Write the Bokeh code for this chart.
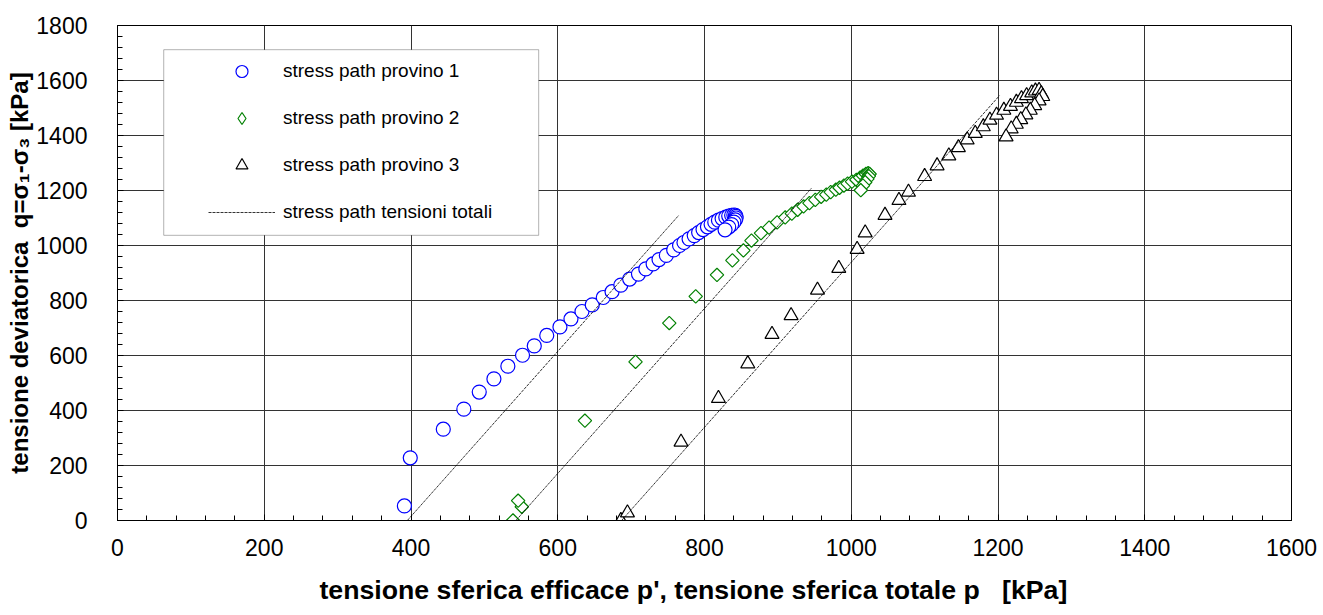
from bokeh.plotting import figure
from bokeh.models import Range1d, SingleIntervalTicker, Legend, LegendItem, BoxAnnotation
from bokeh.embed import file_html
from bokeh.resources import INLINE

# Effective stress paths (p', q) in kPa for the three specimens
p_eff_1 = [391, 399, 444, 472, 493, 513, 532, 552, 568, 585, 603, 618, 633, 647, 662, 674,
           686, 698, 710, 720, 730, 738, 748, 758, 766, 772, 779, 786, 792, 798, 804, 809,
           814, 819, 824, 829, 833, 837, 840, 842, 843, 843, 842, 840, 837, 833, 828]
q_1 = [53, 228, 332, 405, 467, 515, 561, 601, 635, 673, 704, 733, 760, 784, 811, 832,
       856, 878, 896, 915, 933, 949, 964, 984, 1000, 1011, 1024, 1036, 1047, 1058, 1068, 1077,
       1085, 1092, 1098, 1103, 1107, 1110, 1111, 1110, 1106, 1100, 1093, 1085, 1076, 1067, 1057]

p_eff_2 = [539, 551, 546, 637, 706, 752, 788, 817, 838, 853, 864, 877, 888, 899, 910, 919,
           927, 935, 943, 951, 959, 966, 972, 979, 984, 990, 995, 1001, 1007, 1012, 1016, 1020,
           1023, 1025, 1024, 1022, 1019, 1016, 1013]
q_2 = [0, 50, 72, 363, 577, 718, 815, 893, 946, 982, 1018, 1045, 1065, 1084, 1102, 1116,
       1130, 1142, 1154, 1166, 1177, 1185, 1194, 1203, 1210, 1218, 1225, 1232, 1239, 1247, 1254, 1260,
       1263, 1260, 1252, 1242, 1230, 1218, 1201]

p_eff_3 = [686, 695, 768, 819, 859, 892, 918, 954, 983, 1008, 1019, 1046, 1065, 1078, 1100, 1117,
           1133, 1146, 1158, 1169, 1180, 1189, 1198, 1208, 1217, 1225, 1232, 1239, 1246, 1251, 1256,
           1259, 1261, 1256, 1250, 1244, 1238, 1231, 1225, 1218, 1211]
q_3 = [0, 28, 285, 444, 570, 677, 745, 838, 917, 986, 1046, 1110, 1164, 1194, 1251, 1290,
       1326, 1356, 1384, 1408, 1432, 1456, 1474, 1492, 1506, 1521, 1534, 1545, 1555, 1562, 1564,
       1552, 1542, 1526, 1509, 1492, 1475, 1458, 1441, 1424, 1395]

# Total stress paths: start and end points of each specimen
total_p = [[395, 765], [543, 946], [687, 1202]]
total_q = [[0, 1110], [0, 1209], [0, 1545]]

labels = ["stress path provino 1", "stress path provino 2",
          "stress path provino 3", "stress path tensioni totali"]

FONT = "Liberation Sans"

p = figure(width=1323, height=615, output_backend="svg", toolbar_location=None,
           x_range=Range1d(0, 1600), y_range=Range1d(0, 1800),
           min_border_left=117, min_border_right=32, min_border_top=25, min_border_bottom=95,
           background_fill_color="white", border_fill_color="white")

p.outline_line_color = "black"
p.outline_line_width = 1

p.xaxis.ticker = SingleIntervalTicker(interval=200, num_minor_ticks=5)
p.yaxis.ticker = SingleIntervalTicker(interval=200, num_minor_ticks=5)

for ax in (p.xaxis, p.yaxis):
    ax.axis_line_color = "black"
    ax.major_tick_in = 6
    ax.major_tick_out = 0
    ax.minor_tick_in = 5
    ax.minor_tick_out = 0
    ax.major_tick_line_color = "black"
    ax.minor_tick_line_color = "black"
    ax.major_label_text_font = FONT
    ax.major_label_text_font_size = "23px"
    ax.major_label_text_color = "black"
    ax.axis_label_text_font = FONT
    ax.axis_label_text_font_style = "bold"
    ax.axis_label_text_color = "black"

p.xaxis.major_label_standoff = 18
p.xaxis.axis_label_standoff = 16
p.xaxis.axis_label_text_font_size = "26.7px"
p.xaxis.axis_label = ("tensione sferica efficace p', tensione sferica totale p"
                      "\u00a0\u00a0\u00a0[kPa]\u00a0\u00a0\u00a0")

p.yaxis.major_label_standoff = 30
p.yaxis.axis_label_standoff = 0
p.yaxis.axis_label_text_font_size = "24px"
p.yaxis.axis_label = "tensione deviatorica\u00a0\u00a0q=\u03c3\u2081-\u03c3\u2083 [kPa]"

p.grid.grid_line_color = "#333333"
p.grid.grid_line_width = 1

r1 = p.scatter(p_eff_1, q_1, marker="circle", size=14, line_color="#0000FF",
               fill_color="white", line_width=1.2)
r2 = p.scatter(p_eff_2, q_2, marker="square", angle=0.785398, size=9.5, line_color="#008000",
               fill_color="white", line_width=1.2)
r3 = p.scatter(p_eff_3, q_3, marker="triangle", size=14, line_color="black",
               fill_color="white", line_width=1.2)
r4 = p.multi_line(total_p, total_q, line_color="black", line_width=0.8, line_dash="3 1")

# Legend symbol for specimen 2: legend glyphs are drawn unrotated, so the key uses
# the diamond marker on a hidden copy of the same series
r2_key = p.scatter(p_eff_2, q_2, marker="diamond", line_color="#008000",
                   fill_color="white", line_width=1.2, visible=False)

# Legend frame
frame = BoxAnnotation(left=63, right=574, bottom=1037, top=1712,
                      fill_color="white", fill_alpha=1.0,
                      line_color="black", line_width=1, level="annotation")
p.add_layout(frame)

legend = Legend(items=[LegendItem(label=labels[0], renderers=[r1]),
                       LegendItem(label=labels[1], renderers=[r2_key]),
                       LegendItem(label=labels[2], renderers=[r3]),
                       LegendItem(label=labels[3], renderers=[r4])],
                location=(91, 293), orientation="vertical",
                padding=0, margin=0, spacing=17,
                glyph_width=67, glyph_height=30, label_height=30, label_standoff=8,
                label_text_font=FONT, label_text_font_size="19px", label_text_color="black",
                background_fill_alpha=0, border_line_alpha=0,
                inactive_fill_alpha=0)
p.add_layout(legend)

open("out.html", "w").write(file_html(p, INLINE))
